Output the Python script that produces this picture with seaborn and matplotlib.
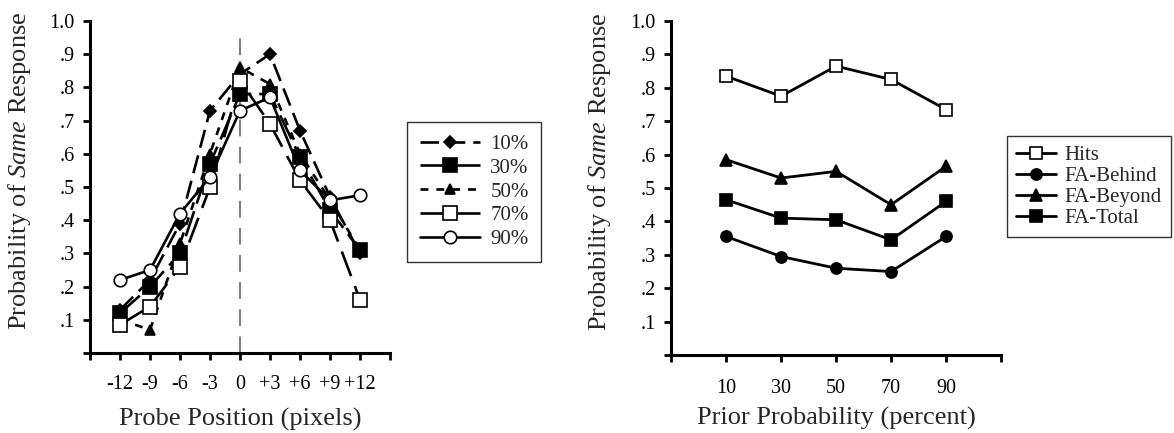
import matplotlib
matplotlib.use("Agg")
import matplotlib.pyplot as plt
import seaborn as sns
import pandas as pd

# --- data ---
probe_pos = [-12, -9, -6, -3, 0, 3, 6, 9, 12]
probe_labels = ["-12", "-9", "-6", "-3", "0", "+3", "+6", "+9", "+12"]
p10 = [0.13, 0.22, 0.39, 0.73, 0.84, 0.90, 0.67, 0.47, 0.30]
p30 = [0.12, 0.20, 0.30, 0.57, 0.78, 0.78, 0.59, 0.43, 0.31]
p50 = [0.10, 0.07, 0.33, 0.60, 0.86, 0.81, 0.60, 0.46, 0.31]
p70 = [0.085, 0.14, 0.26, 0.50, 0.82, 0.69, 0.52, 0.40, 0.16]
p90 = [0.22, 0.25, 0.42, 0.53, 0.73, 0.77, 0.55, 0.46, 0.475]

prior_labels = ["10", "30", "50", "70", "90"]
hits = [0.835, 0.775, 0.865, 0.825, 0.735]
fa_behind = [0.355, 0.295, 0.26, 0.25, 0.355]
fa_beyond = [0.585, 0.53, 0.55, 0.45, 0.565]
fa_total = [0.465, 0.41, 0.405, 0.345, 0.46]

sns.set_theme(style="ticks")
plt.rcParams["font.family"] = ["Liberation Serif", "DejaVu Serif"]
plt.rcParams["mathtext.fontset"] = "custom"
plt.rcParams["mathtext.it"] = "Liberation Serif:italic"
plt.rcParams["mathtext.rm"] = "Liberation Serif"

fig = plt.figure(figsize=(11.74, 4.33), dpi=100)
ax1 = fig.add_axes([0.0767, 0.1848, 0.2555, 0.7667])
ax2 = fig.add_axes([0.5716, 0.1800, 0.2811, 0.7714])

# (label, values, marker, face, dashes)
left_series = [
    ("10%", p10, "D", "black", (7, 3)),
    ("30%", p30, "s", "black", (10, 3)),
    ("50%", p50, "^", "black", (3, 3)),
    ("70%", p70, "s", "white", (10, 4)),
    ("90%", p90, "o", "white", None),
]
ms_left = {"D": 6.5, "s": 9.5, "^": 7.5, "o": 9}

ax1.axvline(0, color="gray", lw=1.5, dashes=(8, 5), ymax=0.98)
for label, vals, mk, face, dash in left_series:
    sns.lineplot(x=probe_pos, y=vals, ax=ax1, color="black", lw=1.9,
                 marker=mk, markersize=ms_left[mk], markerfacecolor=face,
                 markeredgecolor="black", markeredgewidth=1.2, label=label)
    line = ax1.lines[-1]
    if dash is not None:
        line.set_dashes(dash)

right_series = [
    ("Hits", hits, "s", "white", 9),
    ("FA-Behind", fa_behind, "o", "black", 8),
    ("FA-Beyond", fa_beyond, "^", "black", 8.5),
    ("FA-Total", fa_total, "s", "black", 9),
]
idx = list(range(len(prior_labels)))
for label, vals, mk, face, ms in right_series:
    sns.lineplot(x=idx, y=vals, ax=ax2, color="black", lw=2.0,
                 marker=mk, markersize=ms, markerfacecolor=face,
                 markeredgecolor="black", markeredgewidth=1.2, label=label)

yticks = [i / 10 for i in range(11)]
ylabels = [""] + ["." + str(i) for i in range(1, 10)] + ["1.0"]

for ax in (ax1, ax2):
    ax.set_ylim(0, 1.0)
    ax.set_yticks(yticks)
    ax.set_yticklabels(ylabels, fontsize=14.5)
    ax.spines["top"].set_visible(False)
    ax.spines["right"].set_visible(False)
    for s in ("left", "bottom"):
        ax.spines[s].set_linewidth(2.2)
        ax.spines[s].set_color("black")
    ax.tick_params(axis="both", direction="out", length=5, width=2,
                   colors="black", labelsize=14.5, pad=6)
    ax.set_ylabel("Probability of $\\it{Same}$ Response", fontsize=19)
    ax.grid(False)

ax1.yaxis.set_label_coords(-0.19, 0.55)
ax2.yaxis.set_label_coords(-0.176, 0.55)

ax1.set_xlim(-15, 15)
ax1.set_xticks(list(range(-15, 16, 3)))
ax1.set_xticklabels([""] + probe_labels + [""])
ax1.tick_params(axis="x", pad=11)
ax1.set_xlabel("Probe Position (pixels)", fontsize=19, labelpad=10)

ax2.set_xlim(-1, len(prior_labels))
ax2.set_xticks(list(range(-1, len(prior_labels) + 1)))
ax2.set_xticklabels([""] + prior_labels + [""])
ax2.tick_params(axis="x", pad=12)
ax2.set_xlabel("Prior Probability (percent)", fontsize=19, labelpad=7)

leg1 = ax1.legend(loc="upper left", bbox_to_anchor=(1.057, 0.696), fontsize=15,
                  frameon=True, fancybox=False, edgecolor="black",
                  handlelength=2.9, labelspacing=0.2, borderpad=0.6,
                  handletextpad=0.5, borderaxespad=0)
leg1.get_frame().set_linewidth(1.0)
leg2 = ax2.legend(loc="upper left", bbox_to_anchor=(1.018, 0.656), fontsize=15,
                  frameon=True, fancybox=False, edgecolor="black",
                  handlelength=1.9, labelspacing=0.07, borderpad=0.45,
                  handletextpad=0.4, borderaxespad=0)
leg2.get_frame().set_linewidth(1.0)

fig.savefig("out.png", dpi=100)
